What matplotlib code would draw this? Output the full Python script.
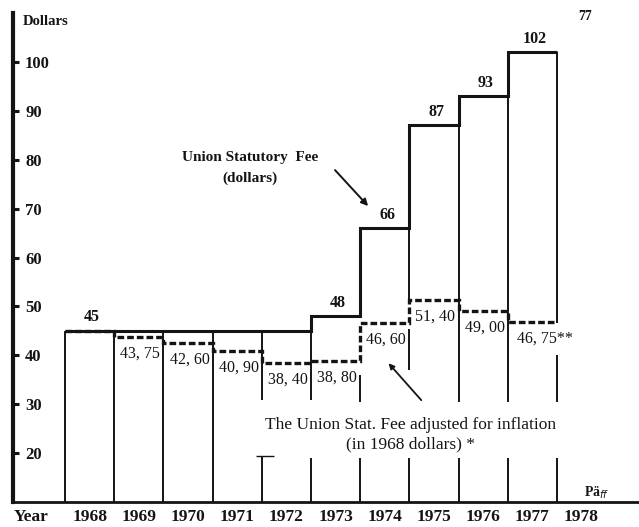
import matplotlib
matplotlib.use("Agg")
import matplotlib.pyplot as plt

# Data: union statutory fee and the same fee in 1968 dollars
years = [1968, 1969, 1970, 1971, 1972, 1973, 1974, 1975, 1976, 1977]
fee = [45, 45, 45, 45, 45, 48, 66, 87, 93, 102]
adjusted = [45, 43.75, 42.60, 40.90, 38.40, 38.80, 46.60, 51.40, 49.00, 46.75]
fee_label_years = [1968, 1973, 1974, 1975, 1976, 1977]
adjusted_label_years = [1969, 1970, 1971, 1972, 1973, 1974, 1975, 1976, 1977]
year_labels = ["1968", "1969", "1970", "1971", "1972", "1973", "1974", "1975",
               "1976", "1977", "1978"]
dollar_ticks = [20, 30, 40, 50, 60, 70, 80, 90, 100]

INK = "#141414"
SERIF = ["Liberation Serif", "DejaVu Serif"]
plt.rcParams["font.family"] = SERIF

fig = plt.figure(figsize=(6.39, 5.27), dpi=100)
ax = fig.add_axes([12.5 / 639, 25 / 527, 1 - 12.5 / 639, 489 / 527])
ax.set_xlim(1966.93, 1979.67)
ax.set_ylim(10, 110)

edges = years + [years[-1] + 1]

# vertical year dividers, broken where the notes sit
gaps = {
    1972: [(19.4, 30.8)],
    1973: [(19.0, 30.8)],
    1974: [(19.0, 30.5), (36.0, 47.8)],
    1975: [(19.0, 37.0), (45.4, 51.3)],
    1976: [(19.0, 30.5)],
    1977: [(19.0, 30.5)],
    1978: [(19.0, 30.5), (40.0, 46.6)],
}
for i, x in enumerate(edges):
    near = [fee[j] for j in (i - 1, i) if 0 <= j < len(fee)]
    top = min(near)
    lo = 10
    for g0, g1 in sorted(gaps.get(x, [])):
        ax.vlines(x, lo, g0, color=INK, lw=1.4)
        lo = g1
    ax.vlines(x, lo, top, color=INK, lw=1.4)
# little cap on the 1972 divider
ax.hlines(19.4, 1971.88, 1972.25, color=INK, lw=1.0)

# step lines
ax.stairs(fee, edges, baseline=None, color=INK, lw=2.2)
ax.stairs(adjusted, edges, baseline=None, color=INK, lw=2.4,
          linestyle=(0, (2.0, 0.9)))

# value labels
for y in fee_label_years:
    v = fee[years.index(y)]
    ax.annotate(f"{v}", (y + 0.55, v), xytext=(0, 4), textcoords="offset points",
                ha="center", va="bottom", fontsize=11.5, fontweight="bold", color=INK)
for y in adjusted_label_years:
    v = adjusted[years.index(y)]
    txt = f"{v:.2f}".replace(".", ", ")
    if y == years[-1]:
        txt += "**"
        ha, dx = "left", -12
    else:
        ha, dx = "center", 0
    ax.annotate(txt, (y + 0.53, v), xytext=(dx, -12), textcoords="offset points",
                ha=ha, va="center", fontsize=11.5, color=INK)

# notes with arrows
ax.text(1970.38, 78.3, "Union Statutory  Fee\n(dollars)", ha="left", va="center",
        fontsize=11, fontweight="bold", color=INK, linespacing=1.75,
        multialignment="center")
ax.annotate("", xy=(1974.2, 70.1), xytext=(1973.45, 78.3),
            arrowprops=dict(arrowstyle="-|>", color=INK, lw=1.4, mutation_scale=10))
ax.text(1975.03, 23.8,
        "The Union Stat. Fee adjusted for inflation\n(in 1968 dollars) *",
        ha="center", va="center", fontsize=12.5, color=INK, linespacing=1.3)
ax.annotate("", xy=(1974.54, 38.8), xytext=(1975.28, 30.4),
            arrowprops=dict(arrowstyle="-|>", color=INK, lw=1.3, mutation_scale=8))

# axes styling
for side in ("top", "right"):
    ax.spines[side].set_visible(False)
ax.spines["left"].set_linewidth(3.0)
ax.spines["bottom"].set_linewidth(2.0)
ax.spines["left"].set_color(INK)
ax.spines["bottom"].set_color(INK)

ax.set_yticks(dollar_ticks)
ax.set_yticklabels([str(t) for t in dollar_ticks])
ax.tick_params(axis="y", direction="in", length=4.5, width=2.2, pad=-9,
               colors=INK, labelsize=12)
for lab in ax.get_yticklabels():
    lab.set_horizontalalignment("left")
    lab.set_fontweight("bold")

ax.set_xticks([1967.3] + [e + 0.5 for e in edges])
ax.set_xticklabels(["Year"] + year_labels)
ax.tick_params(axis="x", length=0, pad=5, colors=INK, labelsize=12.5)
for lab in ax.get_xticklabels():
    lab.set_fontweight("bold")

ax.text(1967.13, 108.2, "Dollars", ha="left", va="center", fontsize=10.5,
        fontweight="bold", color=INK)
fig.text(585 / 639, 1 - 17 / 527, "77", ha="center", va="center", fontsize=10,
         fontweight="bold", color=INK)
fig.text(597 / 639, 1 - 493 / 527, "Pä$_{ff}$", ha="center", va="center",
         fontsize=10, fontweight="bold", color=INK)

fig.savefig("out.png", dpi=100, facecolor="white")
